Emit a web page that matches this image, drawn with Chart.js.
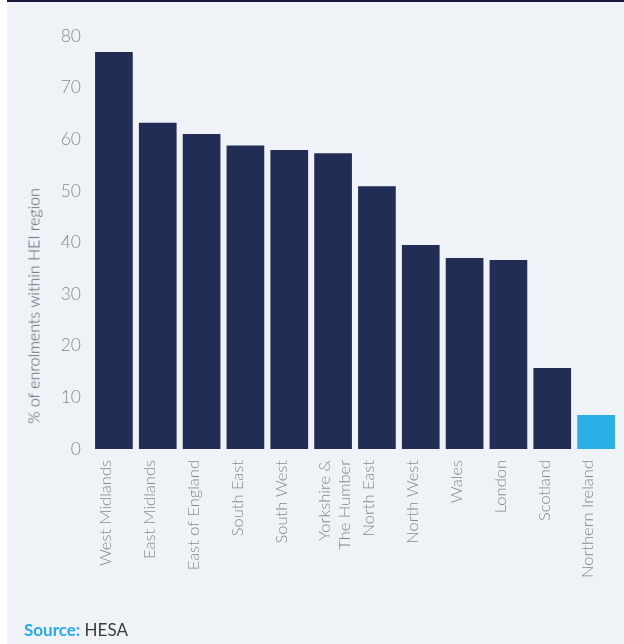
<!DOCTYPE html>
<html>
<head>
<meta charset="utf-8">
<script src="https://cdn.jsdelivr.net/npm/chart.js@4.4.1/dist/chart.umd.min.js"></script>
<style>
  html, body { margin: 0; padding: 0; background: #ffffff; }
  #wrap { position: absolute; left: 7px; top: 0; width: 617px; height: 644px; background: #eff3f7; }
  #topbar { position: absolute; left: 7px; top: 0; width: 617px; height: 2px; background: #17193f; }
  #cv { position: absolute; left: 0; top: 0; }
  #ytitle { position: absolute; left: 33px; top: 306px; transform: translate(-50%, -50%) rotate(-90deg);
            white-space: nowrap; font-family: Lato, sans-serif; font-weight: 300; font-size: 16px; color: #4c5056; }
  #source { position: absolute; left: 24px; top: 619px; font-family: Lato, sans-serif; font-size: 17px; color: #3a3a3a; white-space: nowrap; }
  #source b { color: #29abe2; font-weight: 700; }
</style>
</head>
<body>
<div id="wrap"></div>
<div id="topbar"></div>
<canvas id="cv" width="624" height="644"></canvas>
<div id="ytitle">% of enrolments within HEI region</div>
<div id="source"><b>Source:</b> HESA</div>
<script>
const categories = ["West Midlands", "East Midlands", "East of England", "South East", "South West",
  ["Yorkshire &", "The Humber"], "North East", "North West", "Wales", "London", "Scotland", "Northern Ireland"];
const values = [76.9, 63.2, 61.0, 58.8, 57.9, 57.3, 50.9, 39.5, 37.0, 36.6, 15.7, 6.6];
const highlight = [false, false, false, false, false, false, false, false, false, false, false, true];
const yTicks = [0, 10, 20, 30, 40, 50, 60, 70, 80];

const NAVY = "#212d55";
const BLUE = "#29afe3";
const TICK = "#888888";

new Chart(document.getElementById("cv"), {
  type: "bar",
  data: {
    labels: categories,
    datasets: [{
      data: values,
      backgroundColor: highlight.map(h => h ? BLUE : NAVY),
      categoryPercentage: 1.0,
      barPercentage: 0.86,
      borderWidth: 0
    }]
  },
  options: {
    responsive: false,
    animation: false,
    devicePixelRatio: 1,
    layout: { padding: { left: 0, right: 6, top: 36, bottom: 0 } },
    plugins: { legend: { display: false }, tooltip: { enabled: false } },
    scales: {
      x: {
        grid: { display: false, drawTicks: false },
        border: { display: false },
        ticks: {
          autoSkip: false, maxRotation: 90, minRotation: 90,
          labelOffset: -8, padding: 11,
          color: TICK, font: { family: "Lato", weight: 300, size: 16.5 }
        },
        afterFit: s => { s.height = 644 - 449; s.paddingLeft = 0; s.paddingRight = 0; }
      },
      y: {
        min: 0, max: 80,
        grid: { display: false, drawTicks: false },
        border: { display: false },
        afterBuildTicks: s => { s.ticks = yTicks.map(v => ({ value: v })); },
        ticks: {
          padding: 11,
          color: TICK, font: { family: "Lato", weight: 300, size: 17.5 }
        },
        afterFit: s => { s.width = 92; s.paddingTop = 0; s.paddingBottom = 0; }
      }
    }
  }
});
</script>
</body>
</html>
